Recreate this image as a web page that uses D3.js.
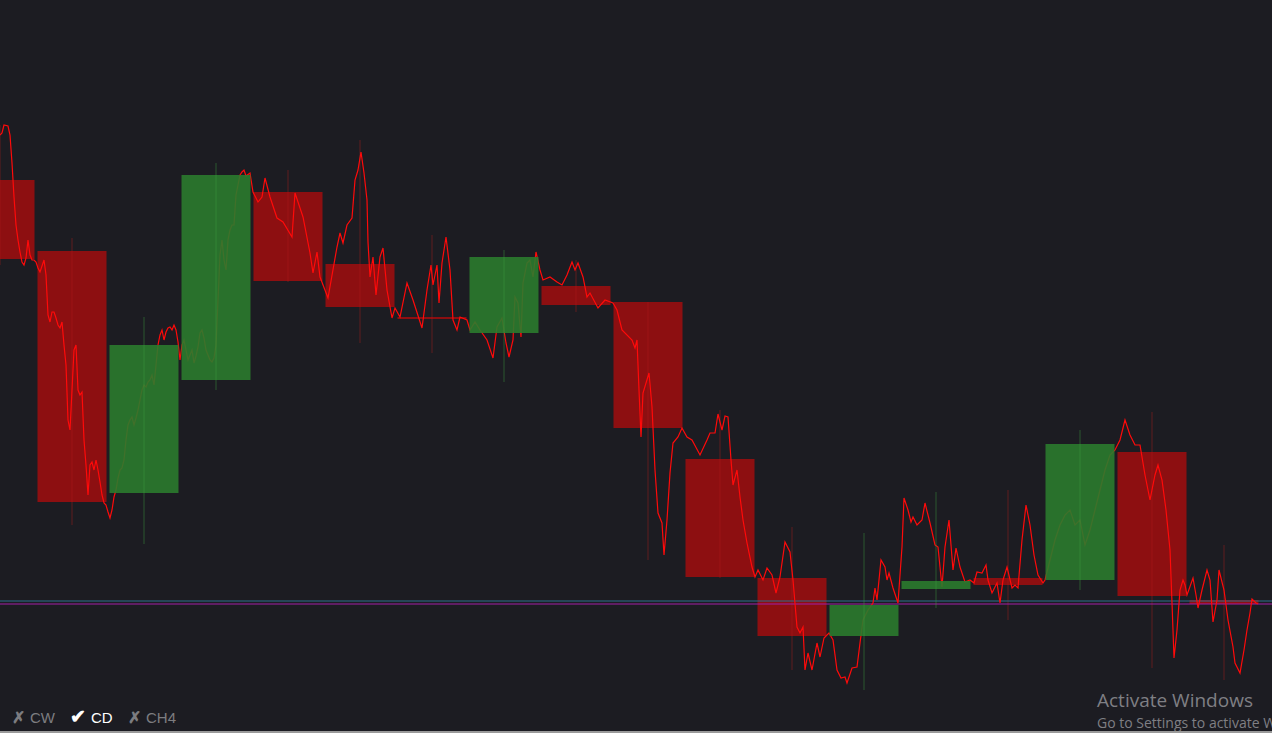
<!DOCTYPE html>
<html><head><meta charset="utf-8">
<script src="https://cdn.jsdelivr.net/npm/d3@7"></script>
<style>html,body{margin:0;padding:0;background:#1c1c22;overflow:hidden}</style>
</head><body>
<svg id="c" width="1272" height="733"></svg>
<script>
// Candles: one per 72 time steps
const candleTime = [0,72,144,216,288,360,432,504,576,648,720,792,864,936,1008,1080,1152,1224];
const candleOpen  = [620,549,307,420,608,536,483,467,514,498,341,222,164,211,222,220,348,200];
const candleClose = [541,298,455,625,519,493,481,543,495,372,223,164,195,219,215,356,204,196];
const candleHigh  = [675,562,483,637,630,660,565,550,540,498,390,273,267,308,310,370,388,255];
const candleLow   = [535,275,256,410,518,457,447,418,488,240,222,130,110,192,180,210,132,120];
// Price line
const lineTime = [0,2,4,8,10,12,14,16,18,20,22,24,26,28,30,32,34,36,38,40,42,44,46,48,50,52,54,56,58,60,62,64,66,68,70,72,74,76,78,80,82,84,86,88,90,92,94,96,98,100,102,104,106,108,110,112,114,116,118,120,122,124,126,128,130,132,134,136,138,140,142,144,146,148,150,152,154,156,158,160,162,164,166,168,170,172,174,176,178,180,182,184,186,188,190,192,194,196,198,200,202,204,206,208,210,212,214,216,218,220,222,224,226,228,230,232,234,236,238,240,242,244,246,250,253,258,262,265,270,277,283,292,295,303,310,313,317,320,328,337,340,343,347,352,355,358,361,364,367,368,370,373,376,380,383,387,392,395,400,407,413,422,427,431,433,437,439,442,446,450,453,457,460,467,470,475,480,487,493,497,502,506,509,513,515,518,521,523,527,530,533,536,540,543,550,557,562,567,572,575,578,583,587,590,598,605,613,617,622,632,635,637,639,641,643,649,652,655,658,662,664,667,670,673,678,682,687,692,700,707,710,715,718,722,725,728,731,733,737,740,743,747,752,755,758,763,767,772,776,780,785,790,793,797,800,803,805,808,812,817,820,824,829,833,837,841,845,847,852,857,860,863,868,873,875,877,881,885,887,889,893,898,902,904,908,911,913,917,922,925,930,935,938,942,945,949,953,956,960,965,970,974,977,982,986,988,992,997,1000,1003,1007,1012,1015,1018,1022,1026,1030,1034,1038,1043,1045,1050,1055,1060,1065,1070,1075,1080,1085,1090,1095,1100,1105,1110,1115,1120,1125,1130,1135,1140,1145,1150,1155,1158,1162,1166,1170,1172,1174,1177,1180,1183,1185,1187,1193,1196,1198,1202,1207,1210,1213,1217,1219,1224,1228,1233,1235,1240,1244,1247,1250,1252,1256,1258];
const lineValue = [665,667,675,674,665,637,603,575,560,548,538,535,542,560,545,540,540,538,532,528,534,540,525,485,478,488,488,482,475,472,478,455,435,380,370,410,450,455,410,405,408,360,335,305,335,338,330,340,330,318,305,297,295,288,282,290,303,310,322,330,332,340,360,375,380,383,375,382,390,400,410,415,413,418,420,425,415,435,455,465,470,460,468,472,473,470,475,470,458,440,455,460,450,440,445,450,437,444,453,467,470,462,450,445,440,438,442,455,500,545,560,540,530,560,570,575,575,605,615,625,628,630,624,627,608,598,603,622,603,582,578,563,607,583,547,527,548,523,502,553,567,557,575,582,620,630,648,627,600,558,523,543,505,543,552,510,482,492,483,517,500,472,510,535,515,535,497,537,563,530,480,470,483,480,470,478,470,460,442,473,482,457,443,460,503,497,463,517,537,540,523,548,530,520,523,518,515,525,538,530,537,523,503,507,492,500,497,490,470,460,452,460,410,363,407,427,393,330,287,277,245,280,327,357,363,372,363,360,345,360,367,367,386,370,384,383,340,315,330,303,280,257,233,223,230,220,232,225,207,223,258,248,220,173,167,173,130,147,130,157,143,162,167,160,130,122,123,117,132,133,157,180,190,197,212,200,240,233,220,227,212,197,253,302,290,278,283,275,280,297,277,255,253,213,253,280,230,252,233,218,220,217,228,227,235,220,207,217,197,220,233,212,215,212,260,295,275,245,225,217,220,240,260,275,285,290,275,280,255,270,290,310,330,345,350,360,380,365,355,355,325,300,325,335,320,290,250,197,142,170,210,220,215,205,222,205,192,210,230,220,178,200,230,210,180,153,137,127,150,170,187,201,197,196];
const levelLines = [199,196];
const legendLabels = ["CW","CD","CH4"];
const legendOn = [false,true,false];

const W=1272,H=733;
const svg=d3.select("#c");
svg.append("rect").attr("width",W).attr("height",H).attr("fill","#1c1c22");
const x=d3.scaleLinear().domain([0,1272]).range([0,W]);
const y=d3.scaleLinear().domain([67,800]).range([H,0]);
const bw=69;
const candles=candleTime.map((t,i)=>({t,o:candleOpen[i],c:candleClose[i],h:candleHigh[i],l:candleLow[i]}));
const red="#8d0f11", green="#2b7b2d";
const body=(sel)=>sel.attr("x",d=>x(d.t)-bw/2).attr("width",bw)
 .attr("y",d=>y(Math.max(d.o,d.c))).attr("height",d=>Math.max(2,Math.abs(y(d.o)-y(d.c))));
const wick=(sel,col,op)=>sel.attr("x1",d=>x(d.t)).attr("x2",d=>x(d.t))
 .attr("y1",d=>y(d.h)).attr("y2",d=>y(d.l)).attr("stroke",col).attr("stroke-width",1).attr("opacity",op);
const reds=candles.filter(d=>d.c<d.o), greens=candles.filter(d=>d.c>=d.o);
body(svg.selectAll("rect.r").data(reds).join("rect").attr("fill",red));
wick(svg.selectAll("line.rw").data(reds).join("line"),"#b01c1c",0.45);
svg.append("line").attr("x1",0).attr("x2",W).attr("y1",y(levelLines[0])).attr("y2",y(levelLines[0])).attr("stroke","#2c6f8c").attr("stroke-width",1);
svg.append("line").attr("x1",0).attr("x2",W).attr("y1",y(levelLines[1])).attr("y2",y(levelLines[1])).attr("stroke","#a21fa6").attr("stroke-width",1);
const pts=lineTime.map((t,i)=>[t,lineValue[i]]);
svg.append("path").datum(pts).attr("fill","none").attr("stroke","#ff0a0a").attr("stroke-width",1.2)
 .attr("d",d3.line().x(d=>x(d[0])).y(d=>y(d[1])));
body(svg.selectAll("rect.gb").data(greens).join("rect").attr("fill",green).attr("opacity",0.9));
wick(svg.selectAll("line.gw").data(greens).join("line"),"#3f9f41",0.45);
const lx=[12,70,128];
legendLabels.forEach((lab,i)=>{
  const t=svg.append("text").attr("x",lx[i]).attr("y",723).attr("font-family","Liberation Sans, Arial, sans-serif").attr("font-size",15)
   .attr("fill",legendOn[i]?"#ffffff":"#7c7c80");
  t.append("tspan").attr("font-weight","bold").attr("font-size",legendOn[i]?19:16).text(legendOn[i]?"✔":"✗");
  t.append("tspan").attr("dx",5).text(lab);
});
svg.append("text").attr("x",1097).attr("y",707).attr("font-family","Open Sans, sans-serif").attr("font-size",19).attr("fill","#7f7f84").text("Activate Windows");
svg.append("text").attr("x",1097).attr("y",728).attr("font-family","Open Sans, sans-serif").attr("font-size",14).attr("fill","#7f7f84").text("Go to Settings to activate Windows.");
svg.append("rect").attr("x",0).attr("y",731).attr("width",W).attr("height",2).attr("fill","#9a9a9a");
</script>
</body></html>
